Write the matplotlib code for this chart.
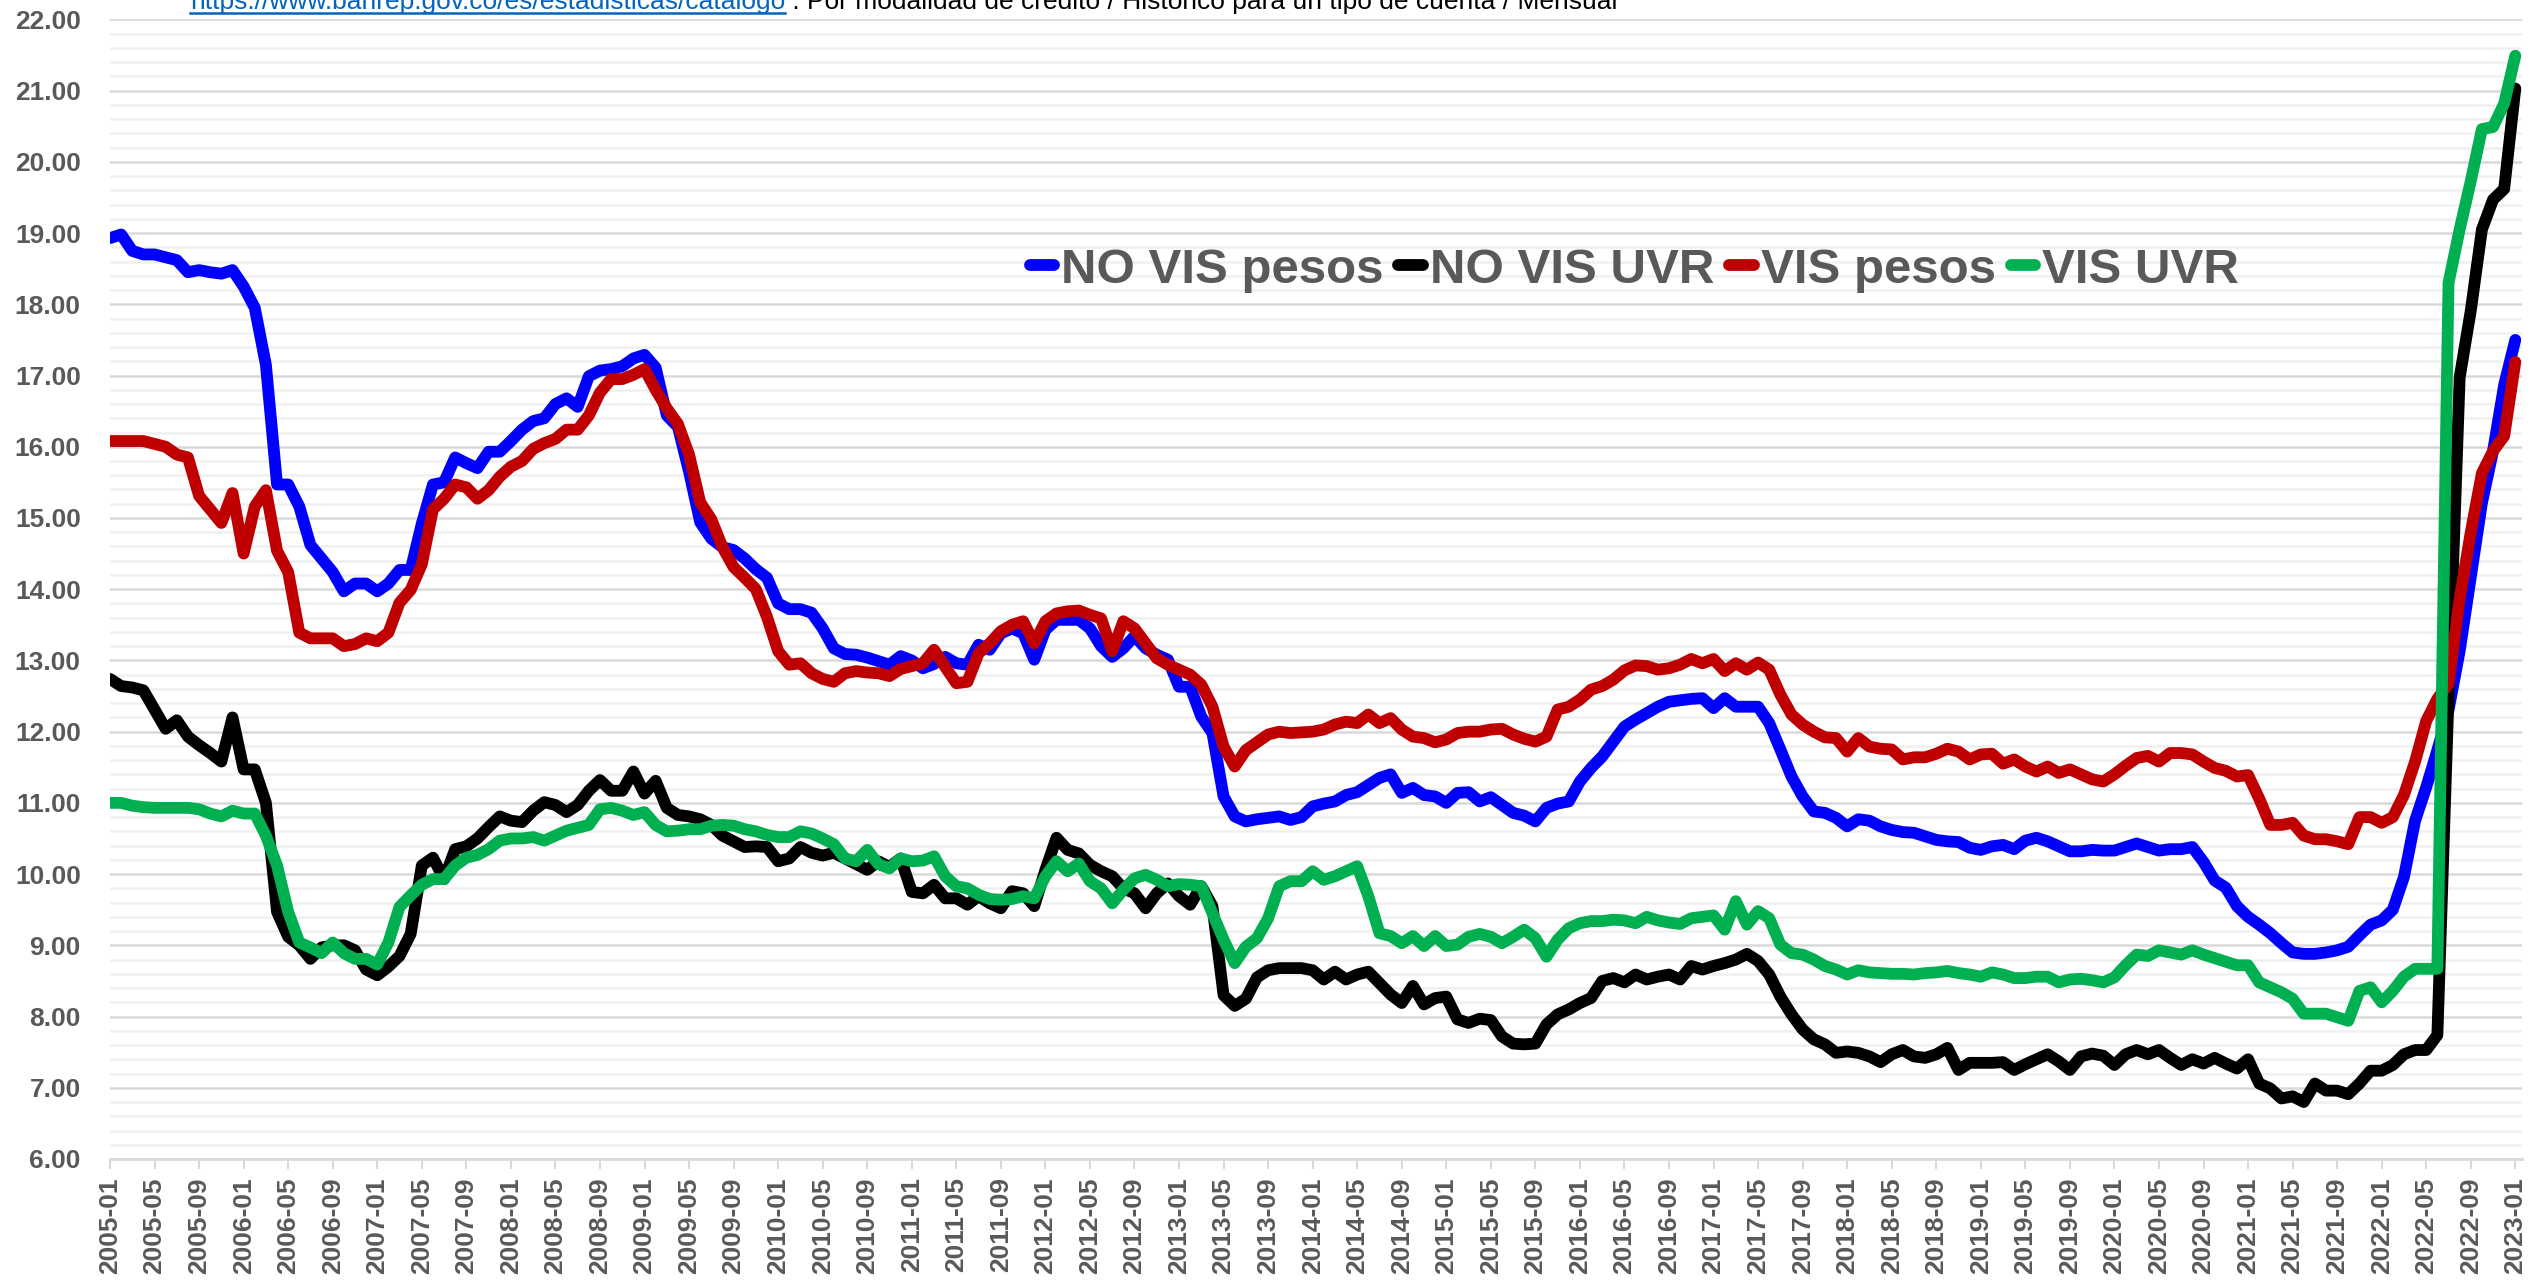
import numpy as np
import pandas as pd
import matplotlib
matplotlib.use("Agg")
import matplotlib.pyplot as plt
from matplotlib import font_manager as fm
from matplotlib.lines import Line2D
from matplotlib.ticker import MultipleLocator

# ---------------- data ----------------
months = [str(p) for p in pd.period_range("2005-01", "2023-01", freq="M")]
series_names = ["NO VIS pesos", "NO VIS UVR", "VIS pesos", "VIS UVR"]
series_colors = ["#0000FF", "#000000", "#C00000", "#00B050"]

no_vis_pesos = [
    18.93, 18.98, 18.75, 18.70, 18.70, 18.66, 18.62, 18.45, 18.48, 18.45, 18.43, 18.48,
    18.25, 17.95, 17.15, 15.47, 15.47, 15.16, 14.62, 14.43, 14.24, 13.97, 14.08, 14.08,
    13.97, 14.08, 14.27, 14.27, 14.92, 15.47, 15.50, 15.85, 15.77, 15.70, 15.93, 15.93,
    16.08, 16.24, 16.36, 16.40, 16.60, 16.68, 16.56, 16.99, 17.07, 17.09, 17.13, 17.24,
    17.29, 17.11, 16.44, 16.28, 15.65, 14.94, 14.71, 14.59, 14.55, 14.43, 14.28, 14.16,
    13.80, 13.72, 13.72, 13.67, 13.45, 13.17, 13.09, 13.08, 13.04, 12.99, 12.94, 13.06,
    13.00, 12.89, 12.95, 13.05, 12.96, 12.94, 13.22, 13.15, 13.38, 13.45, 13.38, 13.01,
    13.43, 13.57, 13.57, 13.57, 13.45, 13.20, 13.05, 13.17, 13.34, 13.17, 13.08, 13.01,
    12.63, 12.63, 12.21, 11.98, 11.09, 10.81, 10.74, 10.77, 10.79, 10.81, 10.76, 10.80,
    10.95, 10.99, 11.02, 11.11, 11.15, 11.25, 11.35, 11.40, 11.14, 11.21, 11.11, 11.09,
    11.00, 11.14, 11.15, 11.02, 11.08, 10.97, 10.86, 10.82, 10.74, 10.93, 10.99, 11.02,
    11.30, 11.49, 11.65, 11.86, 12.07, 12.17, 12.26, 12.35, 12.42, 12.44, 12.46, 12.47,
    12.33, 12.47, 12.35, 12.35, 12.35, 12.12, 11.75, 11.37, 11.09, 10.88, 10.86, 10.79,
    10.67, 10.77, 10.75, 10.67, 10.62, 10.59, 10.58, 10.53, 10.48, 10.46, 10.45, 10.37,
    10.34, 10.39, 10.41, 10.35, 10.47, 10.51, 10.46, 10.39, 10.32, 10.32, 10.34, 10.33,
    10.33, 10.38, 10.43, 10.38, 10.33, 10.35, 10.35, 10.38, 10.17, 9.91, 9.81, 9.55,
    9.40, 9.29, 9.17, 9.03, 8.90, 8.88, 8.88, 8.90, 8.93, 8.98, 9.14, 9.29,
    9.35, 9.50, 9.96, 10.75, 11.22, 11.74, 12.30, 13.13, 14.17, 15.21, 15.94, 16.87,
    17.50,
]

no_vis_uvr = [
    12.74, 12.64, 12.62, 12.58, 12.31, 12.04, 12.16, 11.93, 11.81, 11.70, 11.58, 12.20,
    11.47, 11.47, 11.00, 9.47, 9.12, 9.00, 8.81, 8.97, 9.00, 9.00, 8.93, 8.66,
    8.58, 8.70, 8.85, 9.16, 10.12, 10.23, 9.93, 10.35, 10.39, 10.50, 10.66, 10.81,
    10.75, 10.73, 10.89, 11.01, 10.97, 10.87, 10.97, 11.17, 11.32, 11.17, 11.17, 11.44,
    11.13, 11.31, 10.93, 10.83, 10.81, 10.77, 10.69, 10.54, 10.46, 10.38, 10.39, 10.38,
    10.18, 10.22, 10.38, 10.30, 10.26, 10.30, 10.22, 10.14, 10.06, 10.18, 10.10, 10.22,
    9.75, 9.73, 9.85, 9.66, 9.66, 9.57, 9.69, 9.59, 9.52, 9.76, 9.73, 9.55,
    10.06, 10.51, 10.34, 10.29, 10.13, 10.04, 9.97, 9.80, 9.73, 9.52, 9.73, 9.87,
    9.69, 9.57, 9.83, 9.55, 8.30, 8.15, 8.25, 8.55, 8.65, 8.68, 8.68, 8.68,
    8.65, 8.52, 8.63, 8.52, 8.59, 8.63, 8.47, 8.31, 8.19, 8.43, 8.17, 8.26,
    8.28, 7.96, 7.91, 7.97, 7.95, 7.72, 7.62, 7.61, 7.62, 7.89, 8.03, 8.10,
    8.19, 8.26, 8.50, 8.54, 8.48, 8.59, 8.52, 8.56, 8.59, 8.52, 8.71, 8.66,
    8.71, 8.75, 8.80, 8.88, 8.78, 8.59, 8.28, 8.03, 7.82, 7.68, 7.61, 7.49,
    7.51, 7.49, 7.44, 7.36, 7.47, 7.53, 7.44, 7.42, 7.47, 7.56, 7.25, 7.35,
    7.35, 7.35, 7.36, 7.25, 7.33, 7.40, 7.47, 7.37, 7.25, 7.44, 7.48, 7.45,
    7.32, 7.47, 7.53, 7.47, 7.53, 7.42, 7.32, 7.40, 7.34, 7.42, 7.34, 7.27,
    7.40, 7.06, 6.99, 6.85, 6.88, 6.80, 7.06, 6.96, 6.96, 6.91, 7.06, 7.24,
    7.24, 7.32, 7.47, 7.53, 7.53, 7.74, 12.50, 16.97, 17.91, 19.05, 19.47, 19.62,
    21.03,
]

vis_pesos = [
    16.08, 16.08, 16.08, 16.08, 16.04, 16.00, 15.89, 15.85, 15.31, 15.12, 14.93, 15.35,
    14.50, 15.16, 15.39, 14.54, 14.24, 13.39, 13.31, 13.31, 13.31, 13.20, 13.23, 13.31,
    13.27, 13.39, 13.81, 13.99, 14.35, 15.12, 15.27, 15.47, 15.43, 15.27, 15.39, 15.58,
    15.72, 15.80, 15.97, 16.05, 16.11, 16.24, 16.24, 16.44, 16.76, 16.95, 16.95, 17.01,
    17.09, 16.80, 16.54, 16.32, 15.89, 15.22, 14.98, 14.59, 14.31, 14.16, 14.00, 13.61,
    13.13, 12.94, 12.96, 12.82, 12.74, 12.70, 12.82, 12.85, 12.83, 12.82, 12.78, 12.88,
    12.92, 12.96, 13.15, 12.91, 12.68, 12.70, 13.10, 13.24, 13.41, 13.50, 13.55, 13.24,
    13.55, 13.66, 13.69, 13.70, 13.64, 13.59, 13.13, 13.55, 13.45, 13.24, 13.03, 12.94,
    12.87, 12.80, 12.66, 12.35, 11.79, 11.51, 11.74, 11.85, 11.96, 12.00, 11.98, 11.99,
    12.00, 12.03, 12.10, 12.14, 12.12, 12.24, 12.12, 12.19, 12.03, 11.93, 11.91, 11.85,
    11.89, 11.98, 12.00, 12.00, 12.03, 12.04, 11.96, 11.90, 11.86, 11.93, 12.31, 12.35,
    12.45, 12.59, 12.64, 12.73, 12.86, 12.93, 12.92, 12.87, 12.89, 12.94, 13.02, 12.96,
    13.02, 12.85, 12.96, 12.87, 12.97, 12.87, 12.52, 12.24, 12.10, 12.00, 11.92, 11.91,
    11.72, 11.91, 11.79, 11.76, 11.75, 11.61, 11.64, 11.64, 11.69, 11.76, 11.72, 11.61,
    11.68, 11.69, 11.55, 11.61, 11.51, 11.44, 11.51, 11.42, 11.47, 11.40, 11.33, 11.30,
    11.40, 11.52, 11.63, 11.66, 11.58, 11.70, 11.70, 11.68, 11.58, 11.49, 11.45, 11.37,
    11.39, 11.06, 10.69, 10.69, 10.72, 10.54, 10.49, 10.49, 10.46, 10.42, 10.80, 10.80,
    10.72, 10.80, 11.11, 11.58, 12.15, 12.46, 12.67, 13.86, 14.80, 15.63, 15.94, 16.15,
    17.19,
]

vis_uvr = [
    11.00, 11.00, 10.96, 10.94, 10.93, 10.93, 10.93, 10.93, 10.91, 10.85, 10.81, 10.89,
    10.85, 10.85, 10.54, 10.12, 9.47, 9.04, 8.97, 8.89, 9.04, 8.89, 8.81, 8.81,
    8.73, 9.04, 9.54, 9.70, 9.85, 9.93, 9.93, 10.12, 10.23, 10.27, 10.35, 10.47,
    10.50, 10.50, 10.52, 10.47, 10.54, 10.61, 10.65, 10.69, 10.91, 10.93, 10.89, 10.83,
    10.87, 10.69, 10.60, 10.61, 10.63, 10.63, 10.68, 10.69, 10.68, 10.63, 10.60, 10.55,
    10.52, 10.52, 10.60, 10.57, 10.50, 10.42, 10.22, 10.18, 10.34, 10.14, 10.08, 10.22,
    10.18, 10.19, 10.25, 9.97, 9.83, 9.80, 9.71, 9.65, 9.64, 9.65, 9.69, 9.66,
    9.97, 10.18, 10.04, 10.15, 9.90, 9.80, 9.59, 9.78, 9.94, 9.99, 9.92, 9.83,
    9.86, 9.85, 9.83, 9.45, 9.08, 8.75, 8.98, 9.10, 9.38, 9.83, 9.90, 9.90,
    10.04, 9.92, 9.97, 10.04, 10.11, 9.69, 9.17, 9.13, 9.03, 9.13, 8.99, 9.13,
    8.99, 9.01, 9.12, 9.16, 9.12, 9.03, 9.12, 9.22, 9.10, 8.84, 9.08, 9.24,
    9.31, 9.34, 9.34, 9.36, 9.35, 9.31, 9.40, 9.35, 9.32, 9.30, 9.38, 9.40,
    9.42, 9.22, 9.62, 9.29, 9.48, 9.38, 9.01, 8.89, 8.87, 8.80, 8.71, 8.66,
    8.59, 8.65, 8.62, 8.61, 8.60, 8.60, 8.59, 8.61, 8.62, 8.64, 8.61, 8.59,
    8.56, 8.62, 8.59, 8.54, 8.54, 8.56, 8.56, 8.48, 8.52, 8.53, 8.51, 8.48,
    8.55, 8.72, 8.87, 8.85, 8.93, 8.90, 8.87, 8.93, 8.87, 8.82, 8.77, 8.72,
    8.72, 8.48, 8.41, 8.34, 8.25, 8.04, 8.04, 8.04, 7.99, 7.94, 8.36, 8.41,
    8.20, 8.36, 8.56, 8.67, 8.67, 8.67, 18.30, 19.05, 19.73, 20.46, 20.49, 20.82,
    21.49,
]

y_ticks = list(range(6, 23))
tick_months = months[::4]

source_link = "https://www.banrep.gov.co/es/estadisticas/catalogo"
source_rest = " : Por modalidad de crédito / Histórico para un tipo de cuenta / Mensual"

# ---------------- fonts ----------------
def has_font(name):
    try:
        fm.findfont(fm.FontProperties(family=name), fallback_to_default=False)
        return True
    except Exception:
        return False

NARROW = has_font("Liberation Sans Narrow")
BASE = "Liberation Sans" if has_font("Liberation Sans") else "DejaVu Sans"
if NARROW:
    tick_fp = fm.FontProperties(family=["Liberation Sans Narrow", "DejaVu Sans"], weight="bold", size=23.5)
else:
    tick_fp = fm.FontProperties(family=[BASE, "DejaVu Sans"], weight="bold", size=19)

GREY = "#595959"

# ---------------- figure ----------------
W, H = 2532, 1282
fig = plt.figure(figsize=(W / 100, H / 100), dpi=100, facecolor="white")
ax_left, ax_right, ax_top, ax_bottom = 110, 2522, 19.4, 1159
ax = fig.add_axes([ax_left / W, 1 - ax_bottom / H, (ax_right - ax_left) / W, (ax_bottom - ax_top) / H])

x = np.arange(len(months))
all_series = [no_vis_pesos, no_vis_uvr, vis_pesos, vis_uvr]
for name, vals, col in zip(series_names, all_series, series_colors):
    assert len(vals) == len(months), (name, len(vals))
    ax.plot(x, vals, color=col, lw=8.5, solid_joinstyle="round", solid_capstyle="round",
            label=name, zorder=3)

ax.set_xlim(0, len(months) - 1 + 0.6)
ax.set_ylim(6, 22)
ax.set_yticks(y_ticks)
ax.set_yticklabels([f"{v:.2f}" for v in y_ticks])
ax.yaxis.set_minor_locator(MultipleLocator(0.2))
ax.grid(which="minor", axis="y", color="#F0F0F0", lw=1.8, zorder=0)
ax.grid(which="major", axis="y", color="#D9D9D9", lw=1.8, zorder=0)
ax.set_axisbelow(True)
ax.tick_params(axis="y", which="both", length=0, pad=21)

ax.set_xticks(x[::4])
ax.set_xticklabels(tick_months, rotation=90)
ax.tick_params(axis="x", which="major", length=7, width=1.5, color="#D9D9D9", pad=6)
ax.tick_params(axis="x", which="minor", length=0)

for s in ["top", "right", "left"]:
    ax.spines[s].set_visible(False)
ax.spines["bottom"].set_color("#D9D9D9")
ax.spines["bottom"].set_linewidth(2)

for lbl in ax.get_xticklabels() + ax.get_yticklabels():
    lbl.set_fontproperties(tick_fp)
    lbl.set_color(GREY)

# legend
leg = ax.legend(loc="center", bbox_to_anchor=(0.632, 0.780), ncol=4, frameon=False,
                prop=fm.FontProperties(family=[BASE, "DejaVu Sans"], weight="bold", size=35.5),
                handlelength=0.5, handletextpad=0.14, columnspacing=0.3, labelcolor=GREY,
                borderaxespad=0)
for ln in leg.get_lines():
    ln.set_linewidth(8.5)
    ln.set_solid_capstyle("round")

# source text at top (partially clipped like the reference)
base_y = 1 - 9 / H
t1 = fig.text(190 / W, base_y, source_link, color="#0563C1", fontsize=18,
              family=[BASE, "DejaVu Sans"], ha="left", va="baseline")
fig.canvas.draw()
r = fig.canvas.get_renderer()
w = t1.get_window_extent(r).width
fs = 18 * 593 / w
t1.set_fontsize(fs)
fig.canvas.draw()
bb = t1.get_window_extent(r)
fig.text(bb.x1 / W, base_y, source_rest, color="#000000", fontsize=fs,
         family=[BASE, "DejaVu Sans"], ha="left", va="baseline")
uy = 1 - 13 / H
fig.add_artist(Line2D([bb.x0 / W, bb.x1 / W], [uy, uy], transform=fig.transFigure,
                      color="#0563C1", lw=1.8))

fig.savefig("out.png", dpi=100, facecolor="white")
